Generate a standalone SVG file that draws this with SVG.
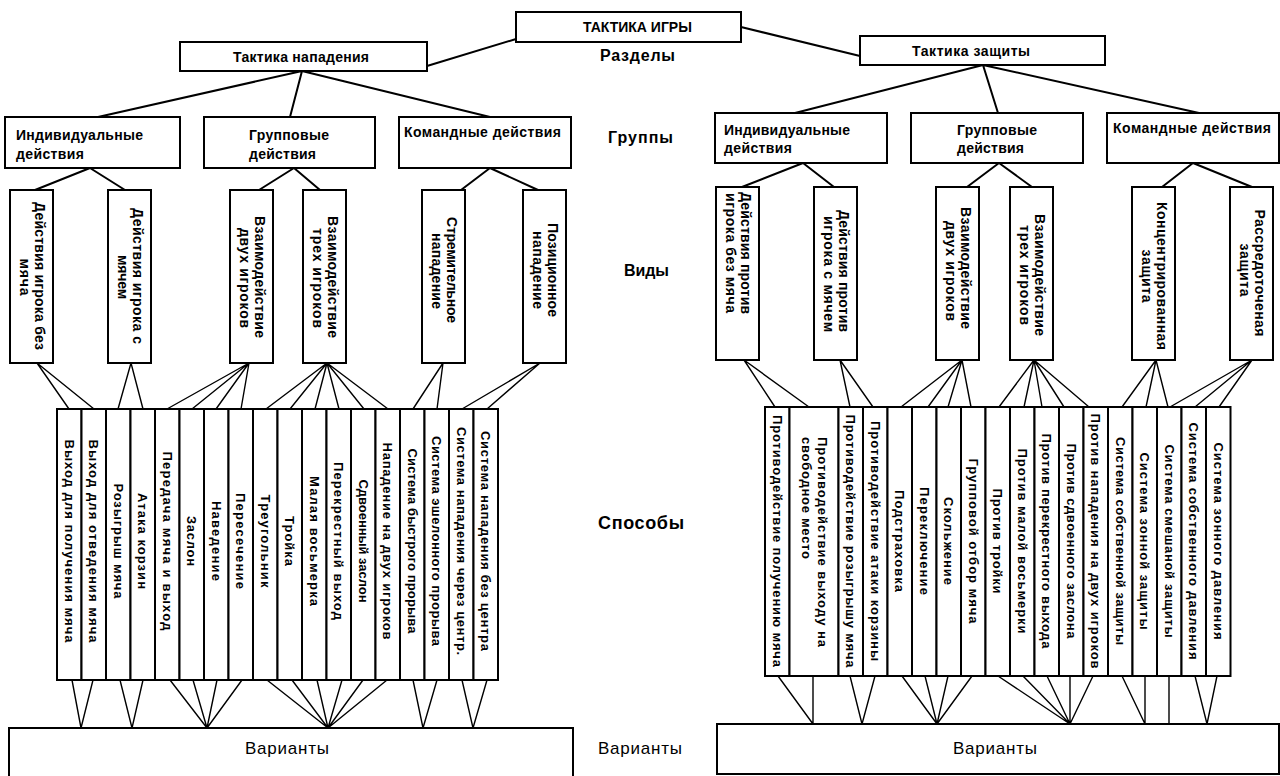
<svg xmlns="http://www.w3.org/2000/svg" width="1280" height="776" viewBox="0 0 1280 776">
<style>
.bx{fill:#fff;stroke:#000;stroke-width:2}
.ln{stroke:#000;stroke-width:1.4;fill:none}
.lt{stroke:#000;stroke-width:2;fill:none}
text{font-family:"Liberation Sans",Arial,sans-serif;fill:#000}
.h{font-size:14px;font-weight:bold}
.tt{font-size:14px;font-weight:bold}
.lab{font-size:16px;font-weight:bold}
.big{font-size:18px;font-weight:bold}
.var{font-size:17px}
.v{font-size:14px;font-weight:bold;text-anchor:middle}
.s{font-size:13px;font-weight:bold;text-anchor:middle}
</style>
<rect width="1280" height="776" fill="#fff"/>

<g id="connectors">
  <path class="lt" d="M516,39 L427,66 M741,27 L860,56"/>
  <path class="lt" d="M302,71 L98,117 M302,71 L290,117 M302,71 L490,117"/>
  <path class="lt" d="M983,65 L795,113 M983,65 L998,113 M983,65 L1199,113"/>
  <path class="lt" d="M90,168 L35,190 M90,168 L125,190 M294,168 L259,190 M294,168 L320,190 M490,168 L461,190 M490,168 L538,190"/>
  <path class="lt" d="M803,163 L742,187 M803,163 L834,187 M999,163 L967,187 M999,163 L1032,187 M1193,163 L1162,187 M1193,163 L1252,187"/>
  <path class="ln" d="M37,363 L69,409 M37,363 L94,409 M131,363 L118,409 M131,363 L143,409 M249,363 L167,409 M249,363 L192,409 M249,363 L216,409 M249,363 L241,409 M327,363 L266,409 M327,363 L290,409 M327,363 L315,409 M327,363 L339,409 M327,363 L364,409 M327,363 L388,409 M443,363 L413,409 M443,363 L437,409 M540,363 L462,409 M540,363 L487,409"/>
  <path class="ln" d="M744,360 L775,407 M744,360 L809,407 M840,360 L850,407 M840,360 L873,407 M962,360 L901,407 M962,360 L928,407 M962,360 L948,407 M962,360 L971,407 M1034,360 L999,407 M1034,360 L1024,407 M1034,360 L1042,407 M1034,360 L1064,407 M1034,360 L1089,407 M1156,360 L1122,407 M1156,360 L1146,407 M1156,360 L1168,407 M1252,360 L1170,407 M1252,360 L1195,407 M1252,360 L1219,407"/>
  <path class="ln" d="M72,680 L81,728 M93,680 L81,728 M120,680 L132,728 M143,680 L132,728 M170,680 L207,728 M193,680 L207,728 M217,680 L207,728 M242,680 L207,728 M267,680 L328,728 M292,680 L328,728 M317,680 L328,728 M342,680 L328,728 M363,680 L328,728 M387,680 L328,728 M413,680 L423,728 M437,680 L423,728 M462,680 L473,728 M487,680 L473,728"/>
  <path class="ln" d="M778,676 L813,724 M813,676 L813,724 M850,676 L862,724 M875,676 L862,724 M902,676 L937,724 M925,676 L937,724 M948,676 L937,724 M972,676 L937,724 M998,676 L1070,724 M1023,676 L1070,724 M1047,676 L1070,724 M1070,676 L1070,724 M1093,676 L1070,724 M1122,676 L1145,724 M1145,676 L1145,724 M1169,676 L1169,724 M1195,676 L1207,724 M1217,676 L1207,724"/>
</g>

<g id="labels">
  <text class="lab" x="600" y="61" textLength="75">Разделы</text>
  <text class="lab" x="608" y="143" textLength="65">Группы</text>
  <text class="lab" x="624" y="276" textLength="45">Виды</text>
  <text class="big" x="598" y="529" textLength="86">Способы</text>
  <text class="var" x="598" y="754" textLength="84">Варианты</text>
</g>

<g id="n-root"><rect class="bx" x="516" y="12" width="225" height="30"/><text class="tt" x="583" y="32">ТАКТИКА ИГРЫ</text></g>
<g id="n-attack"><rect class="bx" x="180" y="42" width="247" height="29"/><text class="h" x="233" y="62" textLength="136">Тактика нападения</text></g>
<g id="n-defense"><rect class="bx" x="860" y="36" width="245" height="29"/><text class="h" x="912" y="56" textLength="118">Тактика защиты</text></g>

<g id="n-a-ind"><rect class="bx" x="5" y="117" width="175" height="51"/><text class="h" x="16" y="140" textLength="127">Индивидуальные</text><text class="h" x="16" y="159" textLength="68">действия</text></g>
<g id="n-a-grp"><rect class="bx" x="204" y="117" width="171" height="51"/><text class="h" x="249" y="140" textLength="80">Групповые</text><text class="h" x="249" y="159" textLength="67">действия</text></g>
<g id="n-a-team"><rect class="bx" x="399" y="117" width="172" height="51"/><text class="h" x="404" y="137" textLength="157">Командные действия</text></g>

<g id="n-d-ind"><rect class="bx" x="715" y="113" width="172" height="50"/><text class="h" x="724" y="135" textLength="126">Индивидуальные</text><text class="h" x="724" y="153" textLength="68">действия</text></g>
<g id="n-d-grp"><rect class="bx" x="911" y="113" width="172" height="50"/><text class="h" x="957" y="135" textLength="80">Групповые</text><text class="h" x="957" y="153" textLength="67">действия</text></g>
<g id="n-d-team"><rect class="bx" x="1107" y="113" width="172" height="50"/><text class="h" x="1113" y="133" textLength="158">Командные действия</text></g>

<g id="v-a1"><rect class="bx" x="10" y="190" width="43" height="173"/><text class="v" transform="translate(39,276) rotate(90)" y="4.5" textLength="148">Действия игрока без</text><text class="v" transform="translate(24,277) rotate(90)" y="4.5" textLength="37">мяча</text></g>
<g id="v-a2"><rect class="bx" x="108" y="190" width="43" height="173"/><text class="v" transform="translate(137,276) rotate(90)" y="4.5" textLength="136">Действия игрока с</text><text class="v" transform="translate(122,277) rotate(90)" y="4.5" textLength="44">мячем</text></g>
<g id="v-a3"><rect class="bx" x="230" y="190" width="43" height="173"/><text class="v" transform="translate(259,277) rotate(90)" y="4.5" textLength="122">Взаимодействие</text><text class="v" transform="translate(244,278) rotate(90)" y="4.5" textLength="100">двух игроков</text></g>
<g id="v-a4"><rect class="bx" x="303" y="190" width="43" height="173"/><text class="v" transform="translate(332,277) rotate(90)" y="4.5" textLength="122">Взаимодействие</text><text class="v" transform="translate(317,278) rotate(90)" y="4.5" textLength="100">трех игроков</text></g>
<g id="v-a5"><rect class="bx" x="422" y="190" width="43" height="173"/><text class="v" transform="translate(451,270) rotate(90)" y="4.5" textLength="106">Стремительное</text><text class="v" transform="translate(436,271) rotate(90)" y="4.5" textLength="76">нападение</text></g>
<g id="v-a6"><rect class="bx" x="523" y="190" width="43" height="173"/><text class="v" transform="translate(552,270) rotate(90)" y="4.5" textLength="94">Позиционное</text><text class="v" transform="translate(537,270) rotate(90)" y="4.5" textLength="78">нападение</text></g>

<g id="v-d1"><rect class="bx" x="716" y="187" width="43" height="173"/><text class="v" transform="translate(745,253) rotate(90)" y="4.5" textLength="122">Действия против</text><text class="v" transform="translate(730,253) rotate(90)" y="4.5" textLength="120">игрока без мяча</text></g>
<g id="v-d2"><rect class="bx" x="814" y="187" width="43" height="173"/><text class="v" transform="translate(843,271) rotate(90)" y="4.5" textLength="122">Действия против</text><text class="v" transform="translate(828,274) rotate(90)" y="4.5" textLength="116">игрока с мячем</text></g>
<g id="v-d3"><rect class="bx" x="936" y="187" width="43" height="173"/><text class="v" transform="translate(965,268) rotate(90)" y="4.5" textLength="122">Взаимодействие</text><text class="v" transform="translate(950,271) rotate(90)" y="4.5" textLength="100">двух игроков</text></g>
<g id="v-d4"><rect class="bx" x="1010" y="187" width="43" height="173"/><text class="v" transform="translate(1039,275) rotate(90)" y="4.5" textLength="122">Взаимодействие</text><text class="v" transform="translate(1024,275) rotate(90)" y="4.5" textLength="100">трех игроков</text></g>
<g id="v-d5"><rect class="bx" x="1132" y="187" width="43" height="173"/><text class="v" transform="translate(1161,276) rotate(90)" y="4.5" textLength="148">Концентрированная</text><text class="v" transform="translate(1146,276) rotate(90)" y="4.5" textLength="53">защита</text></g>
<g id="v-d6"><rect class="bx" x="1230" y="187" width="43" height="173"/><text class="v" transform="translate(1259,273) rotate(90)" y="4.5" textLength="127">Рассредоточеная</text><text class="v" transform="translate(1244,270) rotate(90)" y="4.5" textLength="53">защита</text></g>

<g id="s-a1"><rect class="bx" x="57" y="409" width="24.5" height="271"/><text class="s" transform="translate(69.25,541) rotate(90)" y="4.5" textLength="203">Выход для получения мяча</text></g>
<g id="s-a2"><rect class="bx" x="81.5" y="409" width="24.5" height="271"/><text class="s" transform="translate(93.75,541) rotate(90)" y="4.5" textLength="203">Выход для отведения мяча</text></g>
<g id="s-a3"><rect class="bx" x="106" y="409" width="24.5" height="271"/><text class="s" transform="translate(118.25,541) rotate(90)" y="4.5" textLength="115">Розыгрыш мяча</text></g>
<g id="s-a4"><rect class="bx" x="130.5" y="409" width="24.5" height="271"/><text class="s" transform="translate(142.75,541) rotate(90)" y="4.5" textLength="96">Атака корзин</text></g>
<g id="s-a5"><rect class="bx" x="155" y="409" width="24.5" height="271"/><text class="s" transform="translate(167.25,541) rotate(90)" y="4.5" textLength="179">Передача мяча и выход</text></g>
<g id="s-a6"><rect class="bx" x="179.5" y="409" width="24.5" height="271"/><text class="s" transform="translate(191.75,541) rotate(90)" y="4.5" textLength="50">Заслон</text></g>
<g id="s-a7"><rect class="bx" x="204" y="409" width="24.5" height="271"/><text class="s" transform="translate(216.25,541) rotate(90)" y="4.5" textLength="80">Наведение</text></g>
<g id="s-a8"><rect class="bx" x="228.5" y="409" width="24.5" height="271"/><text class="s" transform="translate(240.75,541) rotate(90)" y="4.5" textLength="96">Пересечение</text></g>
<g id="s-a9"><rect class="bx" x="253" y="409" width="24.5" height="271"/><text class="s" transform="translate(265.25,541) rotate(90)" y="4.5" textLength="93">Треугольник</text></g>
<g id="s-a10"><rect class="bx" x="277.5" y="409" width="24.5" height="271"/><text class="s" transform="translate(289.75,541) rotate(90)" y="4.5" textLength="50">Тройка</text></g>
<g id="s-a11"><rect class="bx" x="302" y="409" width="24.5" height="271"/><text class="s" transform="translate(314.25,541) rotate(90)" y="4.5" textLength="130">Малая восьмерка</text></g>
<g id="s-a12"><rect class="bx" x="326.5" y="409" width="24.5" height="271"/><text class="s" transform="translate(338.75,541) rotate(90)" y="4.5" textLength="158">Перекрестный выход</text></g>
<g id="s-a13"><rect class="bx" x="351" y="409" width="24.5" height="271"/><text class="s" transform="translate(363.25,541) rotate(90)" y="4.5" textLength="123">Сдвоенный заслон</text></g>
<g id="s-a14"><rect class="bx" x="375.5" y="409" width="24.5" height="271"/><text class="s" transform="translate(387.75,541) rotate(90)" y="4.5" textLength="197">Нападение на двух игроков</text></g>
<g id="s-a15"><rect class="bx" x="400" y="409" width="24.5" height="271"/><text class="s" transform="translate(412.25,541) rotate(90)" y="4.5" textLength="185">Система быстрого прорыва</text></g>
<g id="s-a16"><rect class="bx" x="424.5" y="409" width="24.5" height="271"/><text class="s" transform="translate(436.75,541) rotate(90)" y="4.5" textLength="210">Система эшелонного прорыва</text></g>
<g id="s-a17"><rect class="bx" x="449" y="409" width="24.5" height="271"/><text class="s" transform="translate(461.25,541) rotate(90)" y="4.5" textLength="228">Система нападения через центр.</text></g>
<g id="s-a18"><rect class="bx" x="473.5" y="409" width="24.5" height="271"/><text class="s" transform="translate(485.75,541) rotate(90)" y="4.5" textLength="220">Система нападения без центра</text></g>

<g id="s-d1"><rect class="bx" x="765" y="407" width="24.5" height="269"/><text class="s" transform="translate(777.25,541) rotate(90)" y="4.5" textLength="252">Противодействие получению мяча</text></g>
<g id="s-d2"><rect class="bx" x="789.5" y="407" width="49" height="269"/><text class="s" style="text-anchor:start" transform="translate(822,437) rotate(90)" y="4.5" textLength="210">Противодействие выходу на</text><text class="s" style="text-anchor:start" transform="translate(806,437) rotate(90)" y="4.5" textLength="122">свободное место</text></g>
<g id="s-d3"><rect class="bx" x="838.5" y="407" width="24.5" height="269"/><text class="s" transform="translate(850.75,541) rotate(90)" y="4.5" textLength="253">Противодействие розыгрышу мяча</text></g>
<g id="s-d4"><rect class="bx" x="863" y="407" width="24.5" height="269"/><text class="s" transform="translate(875.25,541) rotate(90)" y="4.5" textLength="240">Противодействие атаки корзины</text></g>
<g id="s-d5"><rect class="bx" x="887.5" y="407" width="24.5" height="269"/><text class="s" transform="translate(899.75,541) rotate(90)" y="4.5" textLength="102">Подстраховка</text></g>
<g id="s-d6"><rect class="bx" x="912" y="407" width="24.5" height="269"/><text class="s" transform="translate(924.25,541) rotate(90)" y="4.5" textLength="108">Переключение</text></g>
<g id="s-d7"><rect class="bx" x="936.5" y="407" width="24.5" height="269"/><text class="s" transform="translate(948.75,541) rotate(90)" y="4.5" textLength="88">Скольжение</text></g>
<g id="s-d8"><rect class="bx" x="961" y="407" width="24.5" height="269"/><text class="s" transform="translate(973.25,541) rotate(90)" y="4.5" textLength="165">Групповой отбор мяча</text></g>
<g id="s-d9"><rect class="bx" x="985.5" y="407" width="24.5" height="269"/><text class="s" transform="translate(997.75,541) rotate(90)" y="4.5" textLength="105">Против тройки</text></g>
<g id="s-d10"><rect class="bx" x="1010" y="407" width="24.5" height="269"/><text class="s" transform="translate(1022.25,541) rotate(90)" y="4.5" textLength="185">Против малой восьмерки</text></g>
<g id="s-d11"><rect class="bx" x="1034.5" y="407" width="24.5" height="269"/><text class="s" transform="translate(1046.75,541) rotate(90)" y="4.5" textLength="215">Против перекрестного выхода</text></g>
<g id="s-d12"><rect class="bx" x="1059" y="407" width="24.5" height="269"/><text class="s" transform="translate(1071.25,541) rotate(90)" y="4.5" textLength="195">Против сдвоенного заслона</text></g>
<g id="s-d13"><rect class="bx" x="1083.5" y="407" width="24.5" height="269"/><text class="s" transform="translate(1095.75,541) rotate(90)" y="4.5" textLength="255">Против нападения на двух игроков</text></g>
<g id="s-d14"><rect class="bx" x="1108" y="407" width="24.5" height="269"/><text class="s" transform="translate(1120.25,541) rotate(90)" y="4.5" textLength="208">Система собственной защиты</text></g>
<g id="s-d15"><rect class="bx" x="1132.5" y="407" width="24.5" height="269"/><text class="s" transform="translate(1144.75,541) rotate(90)" y="4.5" textLength="177">Система зонной защиты</text></g>
<g id="s-d16"><rect class="bx" x="1157" y="407" width="24.5" height="269"/><text class="s" transform="translate(1169.25,541) rotate(90)" y="4.5" textLength="193">Система смешаной защиты</text></g>
<g id="s-d17"><rect class="bx" x="1181.5" y="407" width="24.5" height="269"/><text class="s" transform="translate(1193.75,541) rotate(90)" y="4.5" textLength="237">Система собственного давления</text></g>
<g id="s-d18"><rect class="bx" x="1206" y="407" width="24.5" height="269"/><text class="s" transform="translate(1218.25,541) rotate(90)" y="4.5" textLength="197">Система зонного давления</text></g>

<g id="var-a"><rect class="bx" x="9" y="728" width="564" height="60"/><text class="var" x="287" y="754" text-anchor="middle" textLength="84">Варианты</text></g>
<g id="var-d"><rect class="bx" x="717" y="724" width="562" height="50"/><text class="var" x="995" y="754" text-anchor="middle" textLength="84">Варианты</text></g>
</svg>
